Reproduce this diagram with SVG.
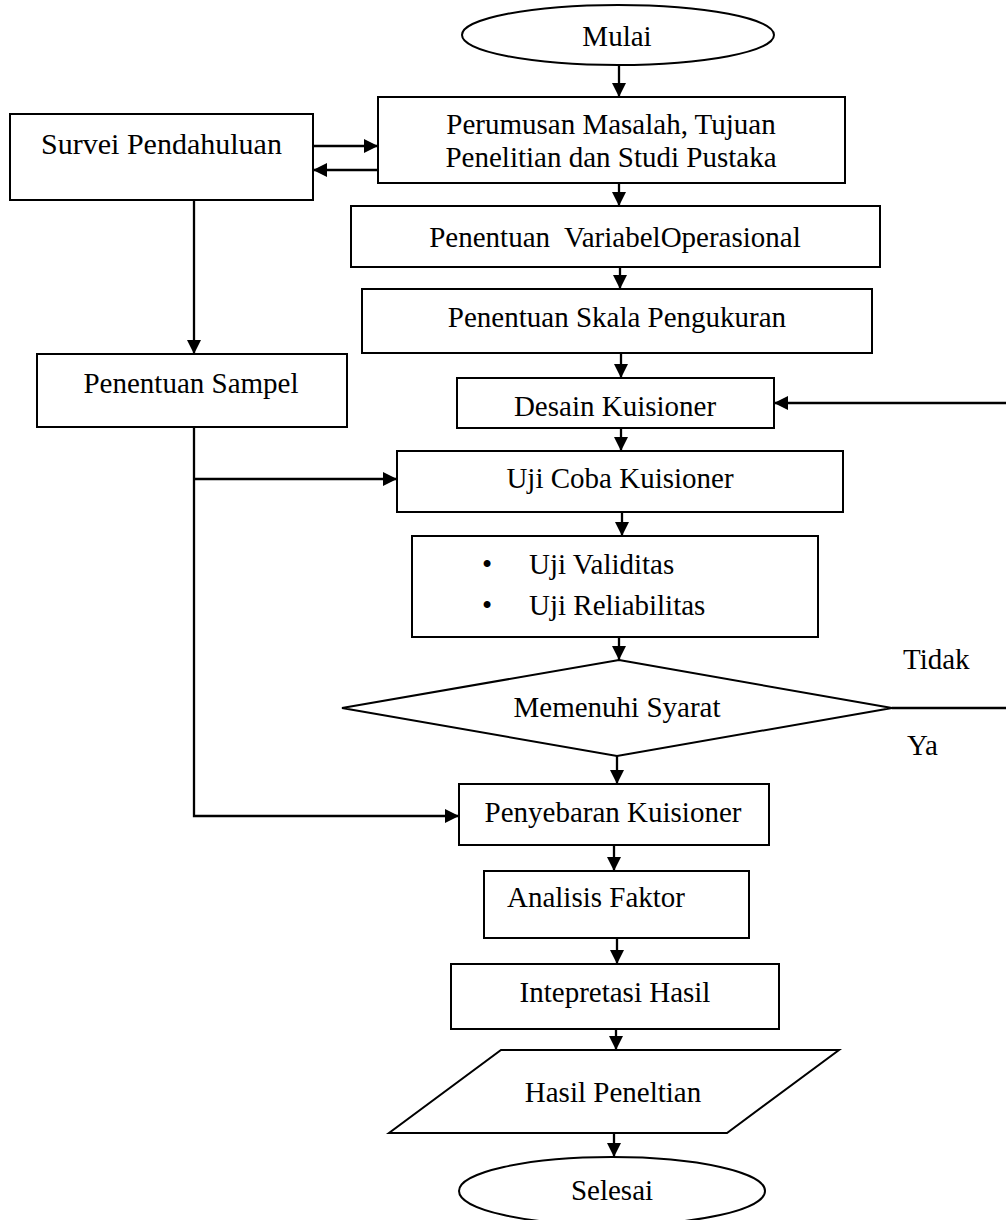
<svg xmlns="http://www.w3.org/2000/svg" width="1006" height="1220" viewBox="0 0 1006 1220">
<style>
.s{fill:#fff;stroke:#000;stroke-width:2}
.t{font-family:"Liberation Serif","Times New Roman",serif;font-size:29px;fill:#000}
.c{text-anchor:middle}
.k{fill:none;stroke:#000;stroke-width:2.3}
</style>
<defs>
<marker id="a" markerUnits="userSpaceOnUse" markerWidth="14" markerHeight="14" refX="14" refY="7" orient="auto">
<path d="M0,0 L14,7 L0,14 z" fill="#000"/>
</marker>
</defs>
<rect width="1006" height="1220" fill="#fff"/>
<g id="connectors">
<path class="k" d="M619,65 V97" marker-end="url(#a)"/>
<path class="k" d="M313,146 H378" marker-end="url(#a)"/>
<path class="k" d="M378,170 H313" marker-end="url(#a)"/>
<path class="k" d="M619,183 V206" marker-end="url(#a)"/>
<path class="k" d="M620,267 V289" marker-end="url(#a)"/>
<path class="k" d="M621,353 V378" marker-end="url(#a)"/>
<path class="k" d="M621,428 V451" marker-end="url(#a)"/>
<path class="k" d="M622,512 V536" marker-end="url(#a)"/>
<path class="k" d="M619,637 V660" marker-end="url(#a)"/>
<path class="k" d="M617,756 V784" marker-end="url(#a)"/>
<path class="k" d="M614,845 V871" marker-end="url(#a)"/>
<path class="k" d="M617,938 V964" marker-end="url(#a)"/>
<path class="k" d="M616,1029 V1050" marker-end="url(#a)"/>
<path class="k" d="M614,1133 V1157" marker-end="url(#a)"/>
<path class="k" d="M194,200 V354" marker-end="url(#a)"/>
<path class="k" d="M194,427 V816 H459" marker-end="url(#a)"/>
<path class="k" d="M194,479 H397" marker-end="url(#a)"/>
<path class="k" d="M892,708 H1010 V403 H774" marker-end="url(#a)"/>
</g>
<g id="mulai">
<ellipse class="s" cx="618" cy="35" rx="156" ry="30"/>
<text class="t c" x="617" y="46">Mulai</text>
</g>
<g id="survei">
<rect class="s" x="10" y="114" width="303" height="86"/>
<text class="t c" x="161.5" y="154" style="font-size:30px">Survei Pendahuluan</text>
</g>
<g id="perumusan">
<rect class="s" x="378" y="97" width="467" height="86"/>
<text class="t c" x="611" y="134">Perumusan Masalah, Tujuan</text>
<text class="t c" x="611" y="167">Penelitian dan Studi Pustaka</text>
</g>
<g id="variabel">
<rect class="s" x="351" y="206" width="529" height="61"/>
<text class="t c" x="615" y="247" xml:space="preserve">Penentuan  VariabelOperasional</text>
</g>
<g id="skala">
<rect class="s" x="362" y="289" width="510" height="64"/>
<text class="t c" x="617" y="327">Penentuan Skala Pengukuran</text>
</g>
<g id="sampel">
<rect class="s" x="37" y="354" width="310" height="73"/>
<text class="t c" x="191" y="393">Penentuan Sampel</text>
</g>
<g id="desain">
<rect class="s" x="457" y="378" width="317" height="50"/>
<text class="t c" x="615" y="416">Desain Kuisioner</text>
</g>
<g id="ujicoba">
<rect class="s" x="397" y="451" width="446" height="61"/>
<text class="t c" x="620" y="488">Uji Coba Kuisioner</text>
</g>
<g id="uji">
<rect class="s" x="412" y="536" width="406" height="101"/>
<text class="t" x="482" y="574">•</text>
<text class="t" x="529" y="574">Uji Validitas</text>
<text class="t" x="482" y="615">•</text>
<text class="t" x="529" y="615">Uji Reliabilitas</text>
</g>
<g id="syarat">
<polygon class="s" points="619,660 892,708 617,756 342,708"/>
<text class="t c" x="617" y="717">Memenuhi Syarat</text>
</g>
<g id="labels">
<text class="t" x="903" y="669">Tidak</text>
<text class="t" x="907" y="755">Ya</text>
</g>
<g id="penyebaran">
<rect class="s" x="459" y="784" width="310" height="61"/>
<text class="t c" x="613" y="822">Penyebaran Kuisioner</text>
</g>
<g id="analisis">
<rect class="s" x="484" y="871" width="265" height="67"/>
<text class="t" x="507" y="907">Analisis Faktor</text>
</g>
<g id="intepretasi">
<rect class="s" x="451" y="964" width="328" height="65"/>
<text class="t c" x="615" y="1002">Intepretasi Hasil</text>
</g>
<g id="hasil">
<polygon class="s" points="501,1050 839,1050 727,1133 389,1133"/>
<text class="t c" x="613" y="1102">Hasil Peneltian</text>
</g>
<g id="selesai">
<ellipse class="s" cx="612" cy="1191" rx="153" ry="34"/>
<text class="t c" x="612" y="1200">Selesai</text>
</g>
</svg>
